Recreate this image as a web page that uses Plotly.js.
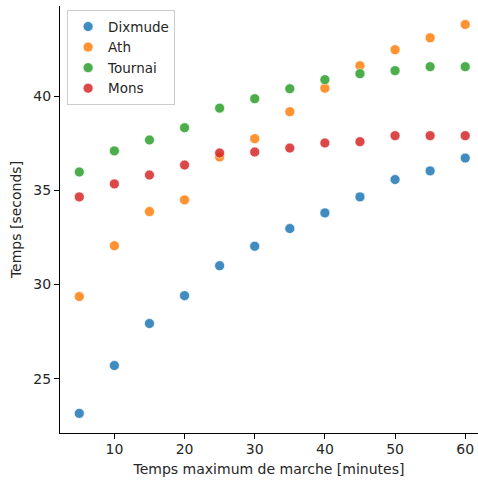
<!DOCTYPE html>
<html>
<head>
<meta charset="utf-8">
<script src="https://cdn.plot.ly/plotly-3.0.1.min.js"></script>
<style>html,body{margin:0;padding:0;background:#fff;}#chart{width:478px;height:483px;}</style>
</head>
<body>
<div id="chart"></div>
<script>
const minutes = [5, 10, 15, 20, 25, 30, 35, 40, 45, 50, 55, 60];
const dixmude = [23.16, 25.70, 27.93, 29.41, 31.00, 32.03, 32.97, 33.80, 34.65, 35.57, 36.03, 36.71];
const ath     = [29.36, 32.06, 33.87, 34.49, 36.77, 37.74, 39.17, 40.42, 41.61, 42.46, 43.09, 43.80];
const tournai = [35.97, 37.09, 37.67, 38.32, 39.36, 39.86, 40.39, 40.87, 41.19, 41.35, 41.56, 41.56];
const mons    = [34.65, 35.34, 35.81, 36.34, 36.98, 37.03, 37.24, 37.51, 37.58, 37.90, 37.90, 37.90];
const seriesNames = ["Dixmude", "Ath", "Tournai", "Mons"];
const seriesValues = [dixmude, ath, tournai, mons];
const colors = ["#1f77b4", "#ff7f0e", "#2ca02c", "#d62728"];

const traces = seriesNames.map((name, i) => ({
  type: "scatter",
  mode: "markers",
  name: name,
  x: minutes,
  y: seriesValues[i],
  marker: {size: 10, color: colors[i], opacity: 0.85, line: {color: "#ffffff", width: 0.7}}
}));

const font = {family: "DejaVu Sans, sans-serif", size: 14, color: "#262626"};
const layout = {
  width: 478, height: 483,
  margin: {l: 60, r: 0, t: 6, b: 50},
  paper_bgcolor: "#ffffff", plot_bgcolor: "#ffffff",
  font: font,
  showlegend: true,
  legend: {
    x: 0.017, y: 0.99, xanchor: "left", yanchor: "top",
    bgcolor: "rgba(255,255,255,0.8)", bordercolor: "#cccccc", borderwidth: 1,
    font: {family: "DejaVu Sans, sans-serif", size: 13.5, color: "#262626"},
    tracegroupgap: 0
  },
  xaxis: {
    range: [2.25, 61.82], dtick: 10, tick0: 0,
    showgrid: false, zeroline: false,
    showline: true, linecolor: "#000000", linewidth: 1,
    ticks: "outside", ticklen: 5, tickcolor: "#000000",
    ticklabelstandoff: -2,
    title: {text: "Temps maximum de marche [minutes]", font: font, standoff: 8},
    automargin: false
  },
  yaxis: {
    range: [22.12, 44.78], dtick: 5, tick0: 0,
    showgrid: false, zeroline: false,
    showline: true, linecolor: "#000000", linewidth: 1,
    ticks: "outside", ticklen: 5, tickcolor: "#000000",
    title: {text: "Temps [seconds]", font: font, standoff: 8},
    automargin: false
  }
};
Plotly.newPlot("chart", traces, layout, {displayModeBar: false, staticPlot: true});
</script>
</body>
</html>
